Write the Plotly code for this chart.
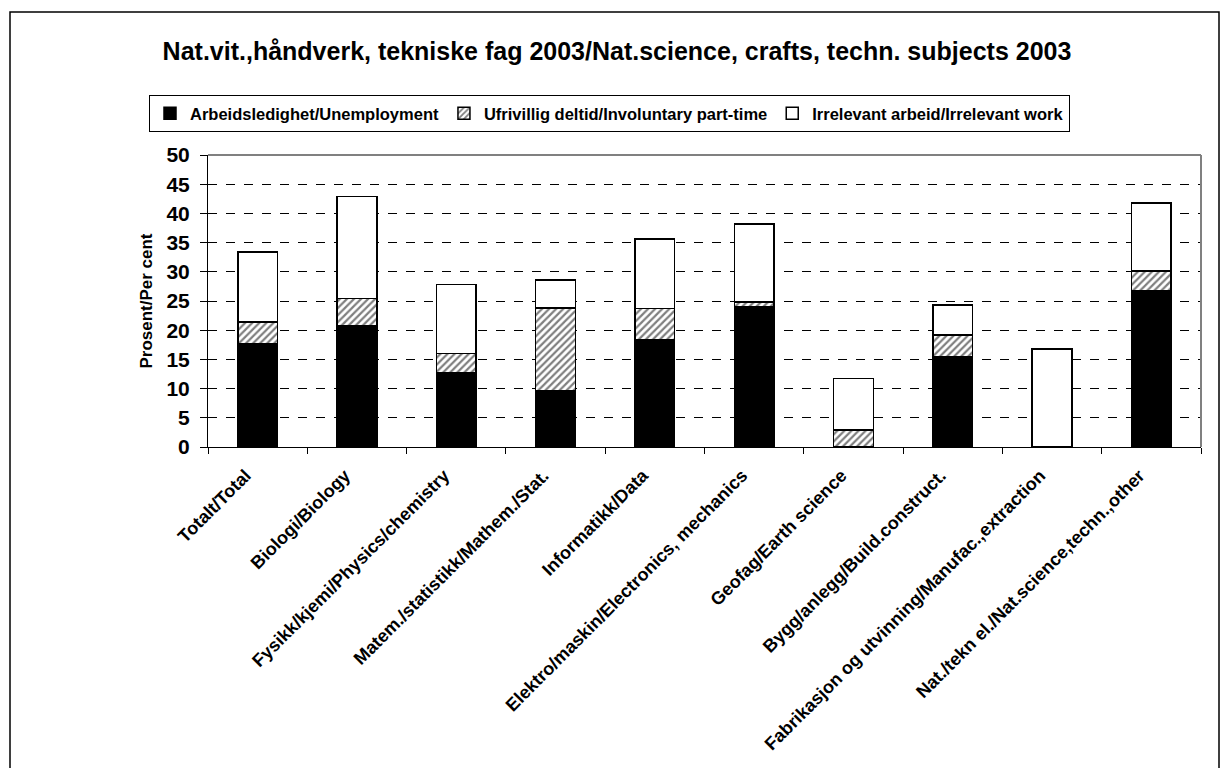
import plotly.graph_objects as go

categories = [
    "Totalt/Total",
    "Biologi/Biology",
    "Fysikk/kjemi/Physics/chemistry",
    "Matem./statistikk/Mathem./Stat.",
    "Informatikk/Data",
    "Elektro/maskin/Electronics, mechanics",
    "Geofag/Earth science",
    "Bygg/anlegg/Build.construct.",
    "Fabrikasjon og utvinning/Manufac.,extraction",
    "Nat./tekn el./Nat.science,techn.,other",
]
unemployment = [17.6, 20.7, 12.7, 9.6, 18.3, 24.1, 0.0, 15.5, 0.0, 26.7]
involuntary_part_time = [3.8, 4.7, 3.3, 14.2, 5.4, 0.7, 2.9, 3.7, 0.0, 3.4]
irrelevant_work = [12.0, 17.5, 11.8, 4.8, 11.9, 13.4, 8.8, 5.1, 16.8, 11.7]

series_names = [
    "Arbeidsledighet/Unemployment",
    "Ufrivillig deltid/Involuntary part-time",
    "Irrelevant arbeid/Irrelevant work",
]
title_text = "Nat.vit.,håndverk, tekniske fag 2003/Nat.science, crafts, techn. subjects 2003"
y_title = "Prosent/Per cent"
y_ticks = [0, 5, 10, 15, 20, 25, 30, 35, 40, 45, 50]

FONT = "Liberation Sans, Arial, sans-serif"
OFF = 8  # page body margin
W, H = 1231 - 2 * OFF, 768 - OFF
PL, PR, PT, PB = 208, 1201, 155, 447  # plot area in screen pixels
L, T = PL - OFF, PT - OFF
R, B = W - (PR - OFF), H - (PB - OFF)
pw, ph = PR - PL, PB - PT


def px_x(p):
    return (p - PL) / pw


def px_y(p):
    return (PB - p) / ph


line = dict(color="black", width=1.5)
fig = go.Figure()
fig.add_trace(go.Bar(x=categories, y=unemployment, name=series_names[0],
                     marker=dict(color="black", line=line)))
fig.add_trace(go.Bar(x=categories, y=involuntary_part_time, name=series_names[1],
                     marker=dict(color="white", line=line,
                                 pattern=dict(shape="/", fgcolor="black", bgcolor="white",
                                              size=5, solidity=0.45))))
fig.add_trace(go.Bar(x=categories, y=irrelevant_work, name=series_names[2],
                     marker=dict(color="white", line=line)))

fig.update_layout(
    width=W, height=H,
    barmode="stack", bargap=0.6,
    paper_bgcolor="white", plot_bgcolor="white",
    margin=dict(l=L, r=R, t=T, b=B, autoexpand=False),
    font=dict(family=FONT, color="black"),
    title=dict(text=title_text, x=px_x(617), xref="paper", xanchor="center",
               y=1 - (51 - OFF) / H, yanchor="middle",
               font=dict(family=FONT, size=25, weight="bold", color="black")),
    legend=dict(orientation="h", x=px_x(149), y=px_y(95), xanchor="left", yanchor="top",
                bordercolor="black", borderwidth=1, bgcolor="white",
                font=dict(family=FONT, size=16.5, weight="bold"),
                itemwidth=30, traceorder="normal"),
    showlegend=True,
)
fig.update_xaxes(
    type="category", tickangle=-45, showline=True, linecolor="black", linewidth=1,
    ticks="outside", tickson="boundaries", ticklen=6, tickcolor="black",
    showgrid=False, tickfont=dict(family=FONT, size=18, weight="bold"),
    ticklabelshift=-12, ticklabelstandoff=10,
    range=[-0.5, len(categories) - 0.5],
)
fig.update_yaxes(
    range=[0, 50], tickvals=y_ticks, showline=True, linecolor="black", linewidth=1,
    ticks="outside", ticklen=7, tickcolor="black",
    showgrid=True, gridcolor="black", gridwidth=1, griddash="dash",
    zeroline=False, ticklabelstandoff=6,
    tickfont=dict(family=FONT, size=21, weight="bold"),
    title=dict(text=y_title, font=dict(family=FONT, size=17, weight="bold"), standoff=9),
)

# plot-area top/right border in gray
fig.add_shape(type="line", xref="paper", yref="paper", x0=0, x1=1, y0=1, y1=1,
              line=dict(color="#808080", width=2))
fig.add_shape(type="line", xref="paper", yref="paper", x0=1, x1=1, y0=0, y1=1,
              line=dict(color="#808080", width=2))
# outer chart border
fig.add_shape(type="rect", xref="paper", yref="paper",
              x0=px_x(10), x1=px_x(1219), y0=px_y(790), y1=px_y(12),
              line=dict(color="black", width=1.5), layer="below")

fig.write_html("out.html")
